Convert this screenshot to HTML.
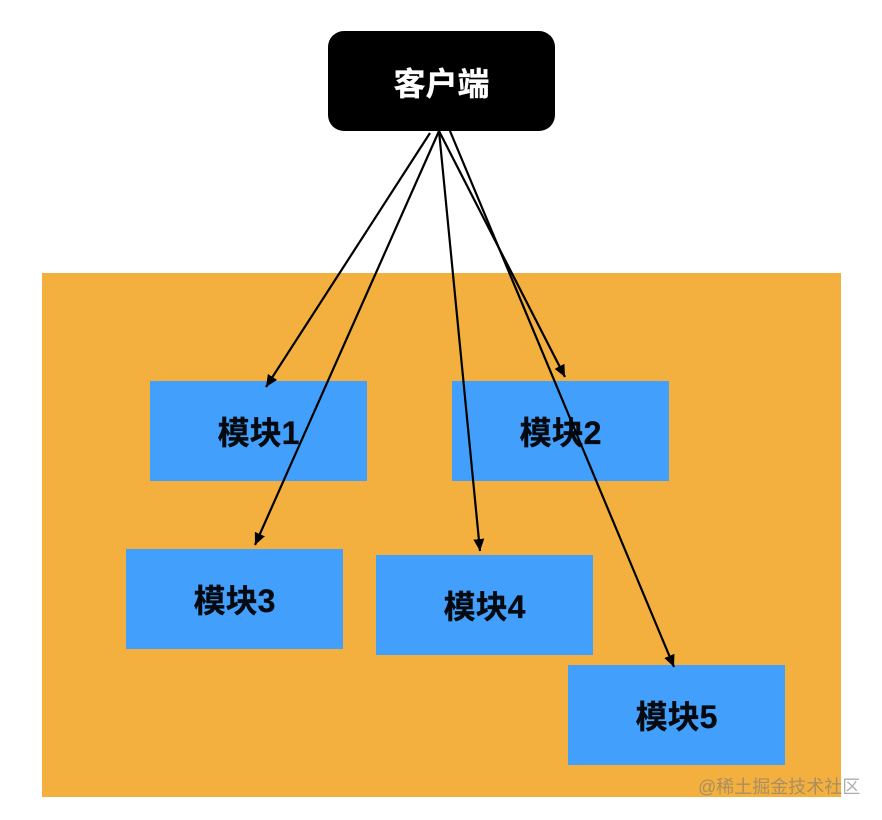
<!DOCTYPE html>
<html>
<head>
<meta charset="utf-8">
<style>
html,body{margin:0;padding:0;background:#fff}
body{width:882px;height:820px;position:relative;overflow:hidden;font-family:"Liberation Sans","Noto Sans CJK SC",sans-serif}
.a{position:absolute}
.m{position:absolute;width:217px;height:100px;background:#42a0fc;color:#050a10;font-size:32px;font-weight:bold;line-height:104px;text-align:center;-webkit-text-stroke:.3px #050a10}
svg{position:absolute;left:0;top:0}
</style>
</head>
<body>
<div class="a" style="left:42px;top:273px;width:799px;height:524px;background:#f3b03f"></div>
<div class="a" style="left:328px;top:31px;width:227px;height:100px;background:#000;border-radius:16px;color:#fff;font-size:32px;font-weight:bold;line-height:106px;text-align:center;-webkit-text-stroke:.3px #fff">客户端</div>
<div class="m" style="left:150px;top:381px">模块1</div>
<div class="m" style="left:452px;top:381px">模块2</div>
<div class="m" style="left:126px;top:549px">模块3</div>
<div class="m" style="left:376px;top:555px">模块4</div>
<div class="m" style="left:568px;top:665px">模块5</div>
<svg width="882" height="820" viewBox="0 0 882 820">
<defs>
<marker id="h" markerUnits="userSpaceOnUse" markerWidth="13" markerHeight="12" refX="12" refY="6" orient="auto">
<path d="M0 0.5L12 6L0 11.5Z" fill="#000"/>
</marker>
</defs>
<g stroke="#000" stroke-width="2.2" fill="none">
<line x1="430" y1="133" x2="266" y2="387" marker-end="url(#h)"/>
<line x1="439" y1="131" x2="255" y2="545" marker-end="url(#h)"/>
<line x1="439" y1="131" x2="480" y2="551" marker-end="url(#h)"/>
<line x1="439" y1="131" x2="565" y2="377" marker-end="url(#h)"/>
<line x1="450" y1="131" x2="674" y2="667" marker-end="url(#h)"/>
</g>
</svg>
<div class="a" style="left:698px;top:776px;font-size:18px;line-height:22px;color:rgba(120,120,120,.6);white-space:nowrap">@稀土掘金技术社区</div>
</body>
</html>
